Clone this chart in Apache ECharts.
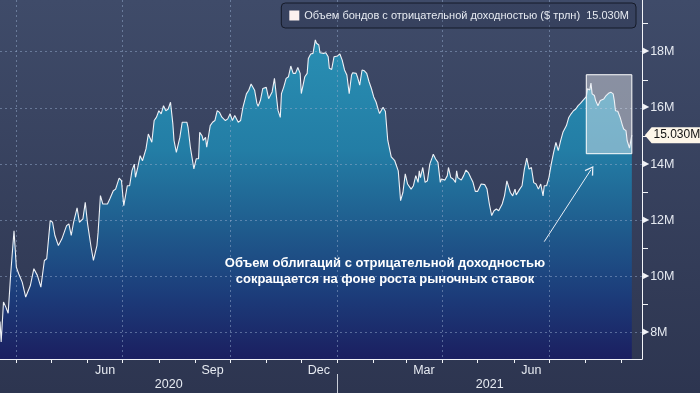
<!DOCTYPE html>
<html>
<head>
<meta charset="utf-8">
<script src="https://cdn.jsdelivr.net/npm/echarts@6/dist/echarts.min.js"></script>
<style>
html,body{margin:0;padding:0;background:#37415c;}
#chart{width:700px;height:393px;}
</style>
</head>
<body>
<div id="chart"></div>
<script>
// ---------- data ----------
const seriesName = 'Объем бондов с отрицательной доходностью ($ трлн)';
const unit = 'M';

const dates = [
'2020-03-18','2020-03-19','2020-03-21','2020-03-23','2020-03-25','2020-03-27','2020-03-30','2020-04-01','2020-04-03','2020-04-06',
'2020-04-09','2020-04-13','2020-04-16','2020-04-19','2020-04-22','2020-04-25','2020-04-27','2020-04-30','2020-05-02','2020-05-04',
'2020-05-07','2020-05-10','2020-05-11','2020-05-14','2020-05-16','2020-05-18','2020-05-20','2020-05-23','2020-05-25','2020-05-28',
'2020-05-30','2020-06-01','2020-06-02','2020-06-04','2020-06-06','2020-06-09','2020-06-10','2020-06-12','2020-06-14','2020-06-18',
'2020-06-20','2020-06-23','2020-06-25','2020-06-28','2020-06-30','2020-07-02','2020-07-05','2020-07-07','2020-07-09','2020-07-11',
'2020-07-12','2020-07-14','2020-07-16','2020-07-18','2020-07-21','2020-07-23','2020-07-26','2020-07-28','2020-07-30','2020-08-01',
'2020-08-03','2020-08-05','2020-08-07','2020-08-09','2020-08-11','2020-08-13','2020-08-14','2020-08-16','2020-08-19','2020-08-21',
'2020-08-25','2020-08-26','2020-08-28','2020-08-31','2020-09-02','2020-09-04','2020-09-05','2020-09-07','2020-09-08','2020-09-10',
'2020-09-11','2020-09-14','2020-09-16','2020-09-18','2020-09-20','2020-09-22','2020-09-24','2020-09-27','2020-09-29','2020-10-01',
'2020-10-03','2020-10-05','2020-10-08','2020-10-10','2020-10-12','2020-10-15','2020-10-17','2020-10-19','2020-10-22','2020-10-24',
'2020-10-25','2020-10-27','2020-10-29','2020-10-30','2020-11-01','2020-11-03','2020-11-06','2020-11-08','2020-11-09','2020-11-11',
'2020-11-13','2020-11-14','2020-11-16','2020-11-18','2020-11-20','2020-11-22','2020-11-24','2020-11-26','2020-11-28','2020-11-30',
'2020-12-01','2020-12-04','2020-12-06','2020-12-07','2020-12-09','2020-12-11','2020-12-13','2020-12-14','2020-12-16','2020-12-17',
'2020-12-20','2020-12-22','2020-12-24','2020-12-25','2020-12-27','2020-12-29','2021-01-01','2021-01-03','2021-01-05','2021-01-07',
'2021-01-09','2021-01-11','2021-01-13','2021-01-14','2021-01-17','2021-01-18','2021-01-20','2021-01-22','2021-01-24','2021-01-26',
'2021-01-28','2021-01-30','2021-02-01','2021-02-03','2021-02-05','2021-02-06','2021-02-09','2021-02-11','2021-02-13','2021-02-16',
'2021-02-19','2021-02-20','2021-02-22','2021-02-24','2021-02-26','2021-02-28','2021-03-02','2021-03-03','2021-03-05','2021-03-07',
'2021-03-09','2021-03-11','2021-03-12','2021-03-13','2021-03-15','2021-03-17','2021-03-19','2021-03-21','2021-03-23','2021-03-24',
'2021-03-26','2021-03-28','2021-03-30','2021-03-31','2021-04-03','2021-04-05','2021-04-06','2021-04-08','2021-04-10','2021-04-12',
'2021-04-13','2021-04-14','2021-04-17','2021-04-19','2021-04-21','2021-04-23','2021-04-25','2021-04-27','2021-04-29','2021-05-01',
'2021-05-04','2021-05-07','2021-05-09','2021-05-11','2021-05-13','2021-05-15','2021-05-17','2021-05-19','2021-05-22','2021-05-24',
'2021-05-26','2021-05-29','2021-05-31','2021-06-02','2021-06-03','2021-06-06','2021-06-08','2021-06-10','2021-06-12','2021-06-14',
'2021-06-16','2021-06-18','2021-06-20','2021-06-22','2021-06-24','2021-06-26','2021-06-27','2021-06-29','2021-07-01','2021-07-03',
'2021-07-05','2021-07-07','2021-07-09','2021-07-11','2021-07-13','2021-07-16','2021-07-18','2021-07-20','2021-07-21','2021-07-22',
'2021-07-24','2021-07-26','2021-07-28','2021-07-30','2021-08-02','2021-08-03','2021-08-05','2021-08-06','2021-08-07','2021-08-09',
'2021-08-10','2021-08-12','2021-08-14','2021-08-15','2021-08-17','2021-08-19','2021-08-21','2021-08-23','2021-08-25','2021-08-26',
'2021-08-27','2021-08-29','2021-08-30','2021-08-31','2021-09-02','2021-09-03','2021-09-05','2021-09-06','2021-09-08','2021-09-09',
'2021-09-10'
];

const values = [
8.40,7.67,9.09,8.91,8.69,10.00,11.63,10.33,10.10,9.80,
9.27,9.68,10.28,10.04,9.62,10.57,10.63,11.99,11.93,11.46,
11.10,11.34,11.28,11.81,11.87,11.46,11.93,12.44,11.93,12.05,
12.64,11.87,11.93,11.04,10.57,11.10,11.57,12.88,12.58,12.58,
12.76,13.05,13.11,13.50,13.41,12.52,13.23,13.23,13.77,14.00,
13.53,13.89,14.30,14.12,14.54,15.07,14.78,15.55,15.67,15.90,
15.79,16.08,15.90,15.96,16.20,15.43,14.84,14.42,14.95,15.49,
15.49,15.31,14.60,13.83,14.19,14.19,15.13,15.01,14.84,14.95,
14.60,15.37,15.49,15.55,15.90,15.84,15.67,15.55,15.61,15.79,
15.55,15.73,15.49,15.55,16.02,16.50,16.63,16.85,16.63,16.16,
16.06,16.27,16.69,16.63,16.73,16.33,16.57,17.05,17.05,15.92,
15.66,16.51,16.75,17.05,17.11,17.49,17.23,17.23,17.44,17.23,
16.51,17.11,17.23,17.76,17.92,17.94,18.42,18.30,18.24,17.96,
17.94,17.96,17.82,17.41,17.37,17.82,17.85,17.92,17.70,17.35,
17.17,16.51,17.17,17.25,17.23,17.11,16.81,17.35,17.32,17.23,
16.93,16.69,16.39,16.21,15.92,15.80,16.02,15.87,14.85,14.26,
14.12,14.18,13.76,12.70,12.99,13.65,13.29,13.35,13.11,13.23,
13.59,13.35,13.76,13.52,13.88,13.35,13.41,14.00,14.23,14.35,
14.18,14.06,13.35,13.47,13.43,13.59,13.88,13.52,13.47,13.35,
13.76,13.52,13.43,13.59,13.79,13.70,13.52,13.35,13.03,13.03,
13.29,13.27,13.11,12.58,12.17,12.34,12.40,12.34,12.58,12.88,
13.40,12.99,12.87,13.11,12.90,13.11,13.23,13.82,14.21,13.82,
13.88,13.34,13.29,13.11,13.29,12.87,13.23,13.23,13.52,14.00,
14.41,14.77,14.48,14.83,15.13,15.37,15.66,15.79,15.81,15.90,
15.96,16.08,16.16,16.26,16.40,16.68,16.64,16.88,16.50,16.44,
16.26,16.08,16.26,16.32,16.32,16.44,16.52,16.56,16.50,16.26,
15.90,15.88,15.93,15.66,15.37,15.25,15.19,14.83,14.57,14.57,
15.03
];

// axis ranges and ticks
const xRange = ['2020-03-18', '2021-09-18T17:00:00'];
const yRange = [7.064, 19.84];
const yTickValues = [8, 10, 12, 14, 16, 18];
const yMinorTickValues = [9, 11, 13, 15, 17, 19];
const monthLabelDates = ['2020-06-16', '2020-09-16', '2020-12-16', '2021-03-16', '2021-06-16'];
const monthLabelNames = ['Jun', 'Sep', 'Dec', 'Mar', 'Jun'];
const yearLabels = [2020, 2021];

// annotations
const annotationLines = ['Объем облигаций с отрицательной доходностью', 'сокращается на фоне роста рыночных ставок'];
const highlightX = ['2021-08-02', '2021-09-10'];
const highlightY = [14.37, 17.18];
const arrowFrom = ['2021-06-27', 11.24];
const arrowTo = ['2021-08-06', 13.80];

// ---------- build ----------
const P = s => echarts.time.parse(s).getTime();
const xMin = P(xRange[0]), xMax = P(xRange[1]);
const pairs = dates.map((d, i) => [P(d), values[i]]);
const lastTs = P(dates[dates.length - 1]);
const lastValue = values[values.length - 1];

const monthStarts = [], quarterStarts = [], yearStarts = [];
{
  const s = new Date(xMin);
  let y = s.getFullYear(), m = s.getMonth() + 1;
  while (true) {
    if (m > 11) { m = 0; y++; }
    const t = new Date(y, m, 1).getTime();
    if (t > xMax) break;
    monthStarts.push(t);
    if (m % 3 === 0) quarterStarts.push(t);
    if (m === 0) yearStarts.push(t);
    m++;
  }
}
const monthLabelTs = monthLabelDates.map(P);
const yearMidTs = yearLabels.map(yr => {
  const a = Math.max(xMin, new Date(yr, 0, 1).getTime());
  const b = Math.min(xMax, new Date(yr + 1, 0, 1).getTime());
  return (a + b) / 2;
});
function nearestIdx(arr, v) {
  let bi = 0, bd = Infinity;
  arr.forEach((t, i) => { const d = Math.abs(t - v); if (d < bd) { bd = d; bi = i; } });
  return bi;
}

const FONT = '"Liberation Sans", Arial, sans-serif';
const txt = '#e6eaf1';
const gridLine = { show: true, lineStyle: { color: 'rgba(150,172,205,0.5)', type: [2, 3], width: 1 } };

const chart = echarts.init(document.getElementById('chart'), null, { renderer: 'canvas' });
chart.setOption({
  animation: false,
  backgroundColor: new echarts.graphic.LinearGradient(0, 0, 0, 1, [
    { offset: 0, color: '#3f4b69' }, { offset: 1, color: '#2d3550' }
  ]),
  textStyle: { fontFamily: FONT },
  grid: { left: 0, right: 58, top: 0, bottom: 34, containLabel: false },
  legend: {
    top: 3, right: 64,
    data: [{ name: seriesName, icon: 'rect' }],
    itemWidth: 10, itemHeight: 10,
    itemStyle: { color: '#fcf1ef' },
    padding: [7, 7, 7, 8],
    backgroundColor: 'rgba(30,35,55,0.18)',
    borderColor: '#151a28', borderWidth: 1, borderRadius: 4,
    selectedMode: false,
    textStyle: { color: txt, fontSize: 11, fontFamily: FONT },
    formatter: n => n + '  ' + lastValue.toFixed(3) + unit
  },
  xAxis: [
    {
      type: 'value', min: xMin, max: xMax, position: 'bottom', z: 3,
      axisLine: { show: true, onZero: false, lineStyle: { color: '#f2f4f8', width: 1 } },
      axisTick: { show: true, customValues: monthStarts, length: 4, lineStyle: { color: '#f2f4f8' } },
      axisLabel: {
        show: true, customValues: monthLabelTs, margin: 5, color: txt, fontSize: 12.5, fontFamily: FONT,
        formatter: v => monthLabelNames[nearestIdx(monthLabelTs, v)]
      },
      splitLine: { show: false }
    },
    {
      type: 'value', min: xMin, max: xMax, position: 'bottom', offset: 15,
      axisLine: { show: false },
      axisTick: { show: true, customValues: yearStarts, length: 20, lineStyle: { color: '#c9cdd8' } },
      axisLabel: {
        show: true, customValues: yearMidTs, margin: 4, color: txt, fontSize: 12.5, fontFamily: FONT,
        formatter: v => String(yearLabels[nearestIdx(yearMidTs, v)])
      },
      splitLine: { show: false }
    },
    {
      type: 'value', min: xMin, max: xMax, position: 'bottom', z: 2,
      axisLine: { show: false },
      axisTick: { show: false, customValues: quarterStarts },
      axisLabel: { show: false },
      splitLine: gridLine
    }
  ],
  yAxis: [
    {
      type: 'value', position: 'right', min: yRange[0], max: yRange[1], z: 2,
      axisLine: { show: true, onZero: false, lineStyle: { color: '#f2f4f8', width: 1 } },
      axisTick: { show: true, customValues: yTickValues, length: 3, lineStyle: { color: '#f2f4f8' } },
      axisLabel: {
        show: true, customValues: yTickValues, margin: 1,
        formatter: v => '{t|▶}{v|' + v + unit + '}',
        rich: {
          t: { color: '#f2f4f8', fontSize: 8, fontFamily: 'DejaVu Sans', padding: [0, 1, 1, 0] },
          v: { color: txt, fontSize: 12.5, fontFamily: FONT }
        }
      },
      splitLine: gridLine
    },
    {
      type: 'value', position: 'right', min: yRange[0], max: yRange[1],
      axisLine: { show: false },
      axisTick: { show: true, customValues: yMinorTickValues, length: 6, lineStyle: { color: '#f2f4f8' } },
      axisLabel: { show: false },
      splitLine: { show: false }
    }
  ],
  graphic: [{
    type: 'text', silent: true, z: 10,
    style: {
      text: annotationLines.join('\n'),
      x: 385, y: 255,
      align: 'center', verticalAlign: 'top',
      fill: '#ffffff', font: 'bold 13px ' + FONT, lineHeight: 16
    }
  }],
  series: [
    {
      type: 'line', name: 'area', data: pairs, xAxisIndex: 0, yAxisIndex: 0,
      symbol: 'none', silent: true, z: 1,
      lineStyle: { width: 0, opacity: 0 },
      areaStyle: {
        opacity: 1,
        color: new echarts.graphic.LinearGradient(0, 0, 0, 1, [
          { offset: 0, color: '#298fb3' },
          { offset: 0.35, color: '#237da5' },
          { offset: 0.6, color: '#1f5a8c' },
          { offset: 0.8, color: '#1c3c7a' },
          { offset: 1, color: '#1b1f60' }
        ])
      }
    },
    {
      type: 'line', name: seriesName, data: pairs, xAxisIndex: 0, yAxisIndex: 0,
      symbol: 'none', silent: true, z: 5,
      lineStyle: { color: '#eef1f6', width: 1.1 },
      markArea: {
        silent: true, z: 4,
        itemStyle: { color: 'rgba(255,255,255,0.4)', borderColor: '#ffffff', borderWidth: 1 },
        label: { show: false },
        data: [[{ xAxis: P(highlightX[0]), yAxis: highlightY[1] }, { xAxis: P(highlightX[1]), yAxis: highlightY[0] }]]
      },
      markLine: {
        silent: true, z: 6,
        symbol: ['none', 'path://M5,0 L10,9 L9,10 L5,2.6 L1,10 L0,9 Z'],
        symbolSize: [10, 9],
        lineStyle: { color: '#e9eef6', width: 1, type: 'solid' },
        label: { show: false },
        data: [[{ coord: [P(arrowFrom[0]), arrowFrom[1]] }, { coord: [P(arrowTo[0]), arrowTo[1]] }]]
      },
      markPoint: {
        silent: true, z: 7,
        symbol: 'path://M0,8 L7,0 L60,0 L60,16 L7,16 Z',
        symbolSize: [58, 16],
        symbolOffset: [42, 0],
        itemStyle: { color: '#fdf6e9' },
        label: {
          show: true, position: 'inside', offset: [3, 0],
          color: '#111', fontSize: 12, fontFamily: FONT,
          formatter: () => lastValue.toFixed(3) + unit
        },
        data: [{ coord: [lastTs, lastValue] }]
      }
    }
  ]
});
</script>
</body>
</html>
